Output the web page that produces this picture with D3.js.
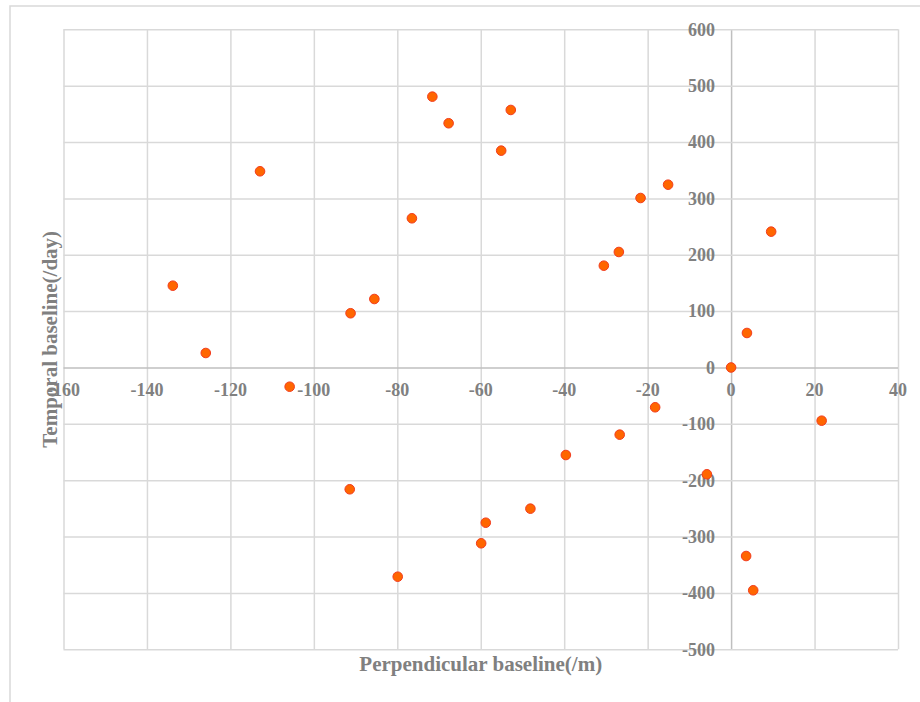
<!DOCTYPE html>
<html>
<head>
<meta charset="utf-8">
<script src="https://cdn.jsdelivr.net/npm/d3@7"></script>
<style>
  body { margin: 0; background: #fff; }
  svg text { font-family: "Liberation Serif", "Times New Roman", serif; font-weight: bold; fill: #808080; }
</style>
</head>
<body>
<div id="chart"></div>
<script>
// perpendicular baseline (m) and temporal baseline (day) for each pair
var perpBaseline = [-71.6, -52.8, -67.7, -55.1, -112.9, -15.1, -21.7, -76.5, 9.6, -26.9,
  -30.5, -133.8, -85.5, -91.2, 3.8, -125.9, 0, -105.8, -18.2, 21.7,
  -26.7, -39.6, -5.8, -91.4, -48.1, -58.8, -59.9, 3.6, -79.9, 5.3];
var tempBaseline = [480.5, 456.9, 433.3, 384.7, 348.1, 324.3, 300.7, 264.7, 241.0, 204.9,
  180.6, 145.1, 121.5, 96.2, 61.2, 25.7, 0, -34.1, -70.6, -94.4,
  -119.2, -155.3, -189.5, -216.1, -250.5, -275.4, -311.9, -334.5, -371.2, -395.3];

var xTicks = [-160, -140, -120, -100, -80, -60, -40, -20, 0, 20, 40];
var yTicks = [-500, -400, -300, -200, -100, 0, 100, 200, 300, 400, 500, 600];

var xTitle = 'Perpendicular baseline(/m)';
var yTitle = 'Temporal baseline(/day)';

var W = 920, H = 702;
var plot = { left: 63.5, right: 898, top: 29.3, bottom: 649.3 };

var svg = d3.select('#chart')
  .append('svg')
  .attr('width', W)
  .attr('height', H);

// outer chart frame (runs off the right and bottom edge)
svg.append('rect')
  .attr('x', 10).attr('y', 6)
  .attr('width', W + 20).attr('height', H + 20)
  .attr('fill', 'none')
  .attr('stroke', '#d9d9d9')
  .attr('stroke-width', 1.5);

var x = d3.scaleLinear().domain([-160, 40]).range([plot.left, plot.right]);
var y = d3.scaleLinear().domain([-500, 600]).range([plot.bottom, plot.top]);

// gridlines
svg.append('g')
  .attr('transform', 'translate(0,' + plot.bottom + ')')
  .call(d3.axisBottom(x).tickValues(xTicks).tickSize(-(plot.bottom - plot.top)).tickFormat(''))
  .call(function (g) {
    g.select('.domain').remove();
    g.selectAll('line').attr('stroke', function (d) { return d === 0 ? '#bfbfbf' : '#d9d9d9'; }).attr('stroke-width', 1.5);
  });

svg.append('g')
  .attr('transform', 'translate(' + plot.left + ',0)')
  .call(d3.axisLeft(y).tickValues(yTicks).tickSize(-(plot.right - plot.left)).tickFormat(''))
  .call(function (g) {
    g.select('.domain').remove();
    g.selectAll('line').attr('stroke', function (d) { return d === 0 ? '#bfbfbf' : '#d9d9d9'; }).attr('stroke-width', 1.5);
  });

// x tick labels sit under the zero line
svg.append('g')
  .selectAll('text.xt')
  .data(xTicks)
  .enter()
  .append('text')
  .attr('class', 'xt')
  .attr('x', function (d) { return x(d); })
  .attr('y', y(0) + 29)
  .attr('text-anchor', 'middle')
  .attr('font-size', 18)
  .text(function (d) { return d; });

// y tick labels left of the zero line
svg.append('g')
  .selectAll('text.yt')
  .data(yTicks)
  .enter()
  .append('text')
  .attr('class', 'yt')
  .attr('x', x(0) - 16)
  .attr('y', function (d) { return y(d); })
  .attr('dy', '0.35em')
  .attr('text-anchor', 'end')
  .attr('font-size', 18)
  .text(function (d) { return d; });

// axis titles
svg.append('text')
  .attr('x', (plot.left + plot.right) / 2)
  .attr('y', 671)
  .attr('text-anchor', 'middle')
  .attr('font-size', 21)
  .text(xTitle);

svg.append('text')
  .attr('transform', 'translate(57,' + ((plot.top + plot.bottom) / 2) + ') rotate(-90)')
  .attr('text-anchor', 'middle')
  .attr('font-size', 21)
  .text(yTitle);

// points
var pts = d3.zip(perpBaseline, tempBaseline);
svg.append('g')
  .selectAll('circle')
  .data(pts)
  .enter()
  .append('circle')
  .attr('cx', function (d) { return x(d[0]); })
  .attr('cy', function (d) { return y(d[1]); })
  .attr('r', 4.8)
  .attr('fill', '#ff6600')
  .attr('stroke', '#f23c1e')
  .attr('stroke-width', 1);
</script>
</body>
</html>
